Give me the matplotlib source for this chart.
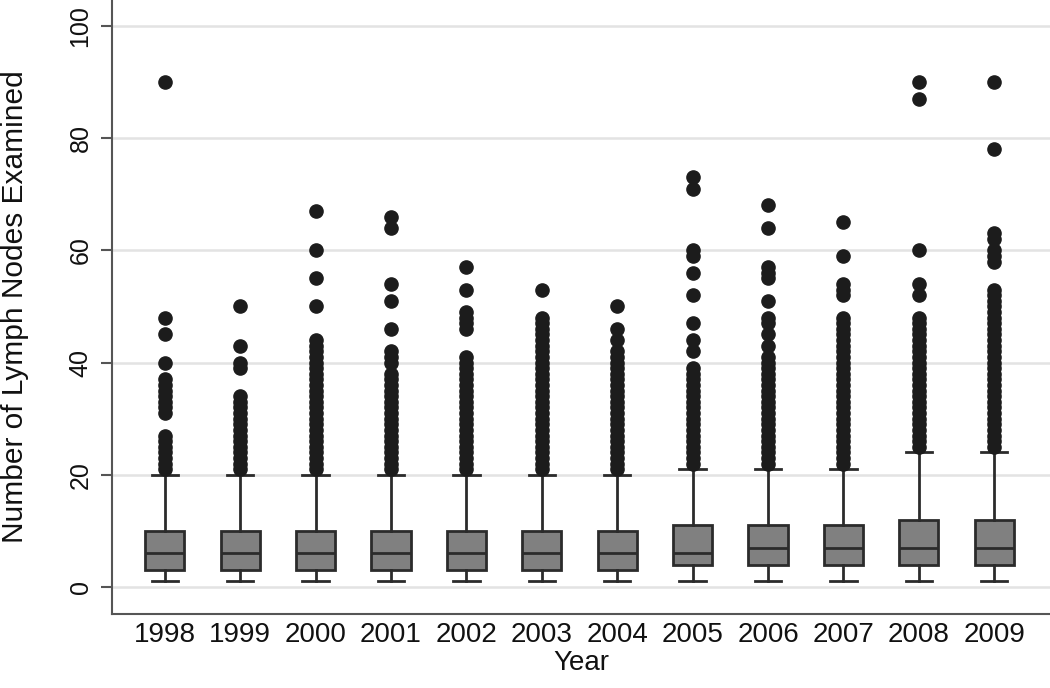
import matplotlib
matplotlib.use("Agg")
import matplotlib.pyplot as plt

plt.rcParams['font.family'] = ['Liberation Sans', 'DejaVu Sans']

years = [1998, 1999, 2000, 2001, 2002, 2003, 2004, 2005, 2006, 2007, 2008, 2009]
whisker_lo = [1, 1, 1, 1, 1, 1, 1, 1, 1, 1, 1, 1]
q1 = [3, 3, 3, 3, 3, 3, 3, 4, 4, 4, 4, 4]
median = [6, 6, 6, 6, 6, 6, 6, 6, 7, 7, 7, 7]
q3 = [10, 10, 10, 10, 10, 10, 10, 11, 11, 11, 12, 12]
whisker_hi = [20, 20, 20, 20, 20, 20, 20, 21, 21, 21, 24, 24]

outliers = [
    list(range(21, 28)) + list(range(31, 38)) + [40, 45, 48, 90],
    list(range(21, 35)) + [39, 40, 43, 50],
    list(range(21, 45)) + [50, 55, 60, 67],
    list(range(21, 39)) + [40, 41, 42, 46, 51, 54, 64, 66],
    list(range(21, 42)) + [46, 47, 48, 49, 53, 57],
    list(range(21, 49)) + [53],
    list(range(21, 43)) + [44, 46, 50],
    list(range(22, 40)) + [42, 44, 47, 52, 56, 59, 60, 71, 73],
    list(range(22, 42)) + [43, 45, 47, 48, 51, 55, 56, 57, 64, 68],
    list(range(22, 49)) + [52, 53, 54, 59, 65],
    list(range(25, 49)) + [52, 54, 60, 87, 90],
    list(range(25, 54)) + [58, 59, 60, 62, 63, 78, 90],
]

stats = []
for i in range(len(years)):
    stats.append({
        "whislo": whisker_lo[i], "q1": q1[i], "med": median[i],
        "q3": q3[i], "whishi": whisker_hi[i], "fliers": outliers[i],
    })

fig = plt.figure(figsize=(10.5, 6.88), dpi=100)
ax = fig.add_axes([0.1067, 0.1076, 0.8933, 0.8924])

dark = "#2b2b2b"
ax.bxp(
    stats, positions=years, widths=0.52, capwidths=0.35, patch_artist=True,
    boxprops=dict(facecolor="#808080", edgecolor=dark, linewidth=2),
    medianprops=dict(color=dark, linewidth=2),
    whiskerprops=dict(color=dark, linewidth=2),
    capprops=dict(color=dark, linewidth=2),
    flierprops=dict(marker="o", markersize=9.5, markerfacecolor="#1c1c1c",
                    markeredgecolor="#1c1c1c"),
    zorder=3,
)

ax.set_xlim(1998 - 0.70, 2009 + 0.74)
ax.set_ylim(-4.8, 104.6)
ax.set_yticks([0, 20, 40, 60, 80, 100])
ax.set_xticks(years)
ax.set_xticklabels([str(y) for y in years])
ax.yaxis.grid(True, color="#e3e3e3", linewidth=1.8, zorder=0)
ax.set_axisbelow(True)

for side in ["top", "right"]:
    ax.spines[side].set_visible(False)
for side in ["left", "bottom"]:
    ax.spines[side].set_color("#555555")
    ax.spines[side].set_linewidth(1.5)

ax.tick_params(axis="x", length=0, labelsize=20, pad=6, colors="#111111")
ax.tick_params(axis="y", length=8, width=1.5, color="#555555",
               labelsize=18, pad=6, labelcolor="#111111")
for lbl in ax.get_yticklabels():
    lbl.set_rotation(90)
    lbl.set_va("center")

ax.set_xlabel("Year", fontsize=20, labelpad=1, color="#111111")
ax.set_ylabel("Number of Lymph Nodes Examined", fontsize=21.5,
              color="#111111")
ax.yaxis.set_label_coords(-0.088, 0.5)

fig.savefig("out.png", dpi=100)
